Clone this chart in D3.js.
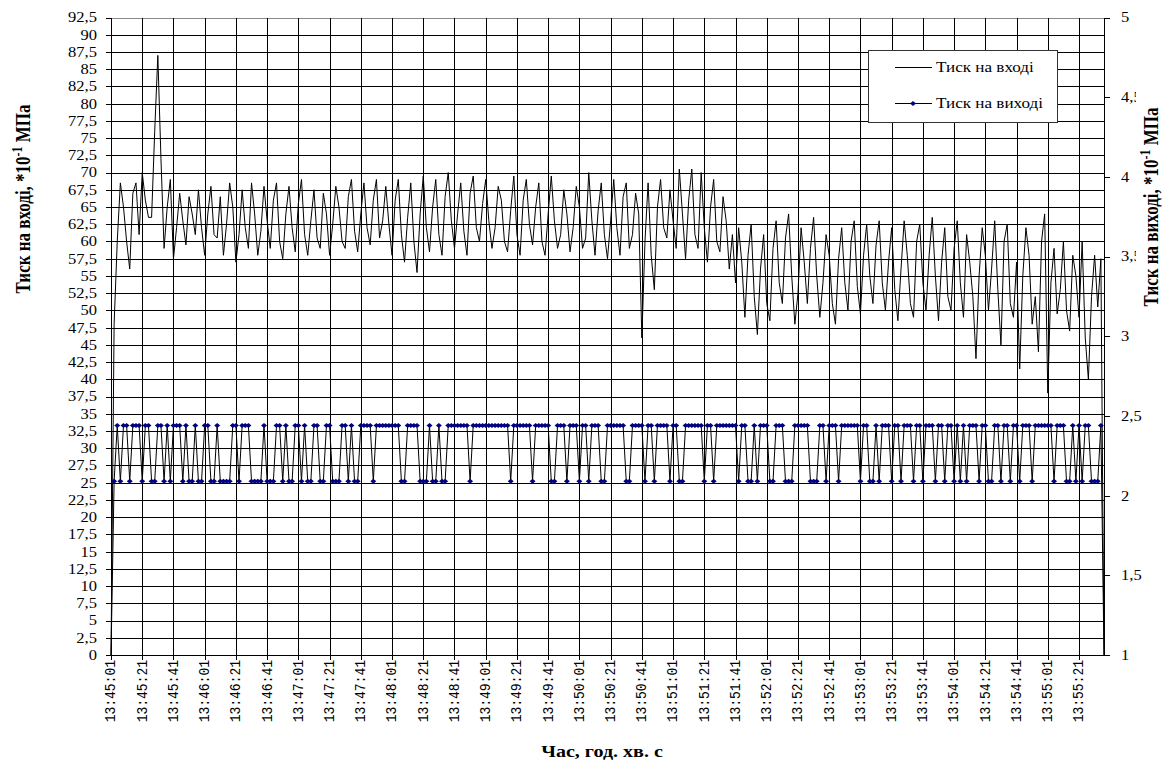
<!DOCTYPE html>
<html><head><meta charset="utf-8">
<script src="https://cdn.jsdelivr.net/npm/d3@7"></script>
<style>body{margin:0;background:#fff} svg{display:block}</style>
</head><body>
<svg id="c" width="1166" height="760"></svg>
<script>
// ---- data ----
const startTime = "13:45:01";
const stepSeconds = 2;
const xTickLabels = ["13:45:01","13:45:21","13:45:41","13:46:01","13:46:21","13:46:41","13:47:01","13:47:21","13:47:41","13:48:01","13:48:21","13:48:41","13:49:01","13:49:21","13:49:41","13:50:01","13:50:21","13:50:41","13:51:01","13:51:21","13:51:41","13:52:01","13:52:21","13:52:41","13:53:01","13:53:21","13:53:41","13:54:01","13:54:21","13:54:41","13:55:01","13:55:21"];
const leftTicks = [0,2.5,5,7.5,10,12.5,15,17.5,20,22.5,25,27.5,30,32.5,35,37.5,40,42.5,45,47.5,50,52.5,55,57.5,60,62.5,65,67.5,70,72.5,75,77.5,80,82.5,85,87.5,90,92.5];
const rightTicks = [1,1.5,2,2.5,3,3.5,4,4.5,5];

// Тиск на вході (left axis, *10^-1 MPa)
const inletPressure = [
0,48,60,68.5,65,60,56,67,68.5,61,
70,66,63.5,63.5,76,87,72,59,65,69,
57.5,62,67,63,59.5,66.5,64,61,67.5,62,
58,64,68,61,60.5,66.5,58,62.5,68.5,65,
57,61,67.5,62,59,68.5,64,58,61.5,68,
63,59,66,68.5,60,57.5,64,68,62,58.5,
65.5,69,61,58,63,67.5,60.5,59,67,64,
58,62.5,68,65,60,59,66.5,69,61.5,58.5,
64,68.5,62,59.5,66,69,60.5,63,68,62.5,
58,66,69,61,57,63.5,68.5,60,55.5,64,
69.5,62,58.5,65,69,61,58,66.5,70,63,
59,64,68.5,61.5,58,67,69.5,62,60,65.5,
69,63,59,62,68,66,60,58.5,64.5,69.5,
61,58,66,69,62.5,59.5,65,68.5,60,58,
64,69.5,63,59,61,67.5,64,58.5,62,68,
65,59,60.5,70,63,58,64.5,68.5,61,57.5,
63,69,62,58,66.5,68.5,59,61,67,64,
46,60,68.5,58,53,65,69,62,60.5,67.5,
63,59,70.5,64,57.5,66,70.5,61,59,70,
62,57,65,69,60,58.5,66.5,63,56,61,
54,62,57,49,58,62.5,52,46.5,56,61,
51,48.5,59,63,54,51,60.5,64,55,48,
52.5,62,57,51,59,63.5,55,49,54,61,
58,51,48,57.5,62,54,50,60,63,53.5,
49.5,58,62.5,55,51,59.5,63,54,50,57,
62,53,48.5,56,63,58,51,49,60,62.5,
54,50,58,63.5,55,48.5,57,62,52,50,
59,63,54,49,61,57,52,43,55,62,
58,50,56,63,53,45,60,62.5,51,49,
57,41.5,55,62,58,48,52,44,60,64,
38,54,59,49.5,53,60,50,47,58,55,
49,60,46,40,52,58,50.5,57.5,0
];

// Тиск на виході (right axis, *10^-1 MPa)
const outletPressure = [
1,2.09,2.44,2.09,2.44,2.44,2.09,2.44,2.44,2.44,
2.09,2.44,2.44,2.09,2.09,2.44,2.44,2.09,2.44,2.09,
2.44,2.44,2.44,2.09,2.44,2.09,2.09,2.44,2.09,2.09,
2.44,2.44,2.09,2.09,2.44,2.09,2.09,2.09,2.09,2.44,
2.44,2.09,2.44,2.44,2.44,2.09,2.09,2.09,2.09,2.44,
2.09,2.09,2.09,2.44,2.44,2.09,2.44,2.09,2.09,2.44,
2.44,2.09,2.44,2.09,2.09,2.44,2.44,2.09,2.09,2.44,
2.44,2.09,2.09,2.09,2.44,2.44,2.09,2.44,2.09,2.09,
2.44,2.44,2.44,2.44,2.09,2.44,2.44,2.44,2.44,2.44,
2.44,2.44,2.44,2.09,2.09,2.44,2.44,2.44,2.44,2.09,
2.09,2.09,2.44,2.09,2.09,2.44,2.09,2.09,2.44,2.44,
2.44,2.44,2.44,2.44,2.44,2.09,2.44,2.44,2.44,2.44,
2.44,2.44,2.44,2.44,2.44,2.44,2.44,2.44,2.09,2.44,
2.44,2.44,2.44,2.44,2.44,2.09,2.44,2.44,2.44,2.44,
2.44,2.09,2.09,2.44,2.44,2.44,2.09,2.44,2.44,2.44,
2.09,2.44,2.44,2.09,2.44,2.44,2.44,2.09,2.09,2.44,
2.44,2.44,2.44,2.44,2.44,2.09,2.09,2.44,2.44,2.44,
2.44,2.09,2.44,2.44,2.09,2.44,2.44,2.44,2.44,2.09,
2.44,2.44,2.09,2.09,2.44,2.44,2.44,2.44,2.44,2.44,
2.09,2.44,2.44,2.09,2.44,2.44,2.44,2.44,2.44,2.44,
2.44,2.09,2.44,2.44,2.09,2.09,2.44,2.09,2.44,2.44,
2.44,2.09,2.09,2.44,2.44,2.44,2.09,2.09,2.09,2.44,
2.44,2.44,2.44,2.44,2.09,2.09,2.09,2.44,2.44,2.09,
2.44,2.44,2.44,2.09,2.44,2.44,2.44,2.44,2.44,2.44,
2.09,2.44,2.44,2.09,2.09,2.44,2.09,2.44,2.44,2.44,
2.09,2.44,2.44,2.09,2.44,2.44,2.44,2.09,2.44,2.44,
2.09,2.44,2.44,2.44,2.09,2.44,2.44,2.09,2.44,2.44,
2.09,2.44,2.09,2.44,2.09,2.44,2.44,2.44,2.09,2.44,
2.44,2.09,2.09,2.44,2.44,2.09,2.44,2.44,2.09,2.44,
2.44,2.09,2.44,2.44,2.44,2.09,2.44,2.44,2.44,2.44,
2.44,2.44,2.09,2.44,2.44,2.44,2.09,2.09,2.44,2.09,
2.44,2.09,2.44,2.44,2.09,2.09,2.09,2.44,1
];

const seriesNames = ["Тиск на вході", "Тиск на виході"];

// ---- categories (time stamps) ----
const parseT = d3.timeParse("%H:%M:%S"), fmtT = d3.timeFormat("%H:%M:%S");
const t0 = parseT(startTime);
const categories = inletPressure.map((_, i) => fmtT(d3.timeSecond.offset(t0, i * stepSeconds)));

// ---- layout ----
const L = 111, R = 1104, T = 17.5, B = 655;
const svg = d3.select("#c");
const serif = "'Liberation Serif','Times New Roman',serif";
const SX = 1.18; // horizontal stretch of the original rendering

const x = d3.scalePoint().domain(categories).range([L, R]);
const yL = d3.scaleLinear().domain([0, 92.5]).range([B, T]);
const yR = d3.scaleLinear().domain([1, 5]).range([B, T]);
const px = v => Math.round(v) + 0.5;
const fmtComma = v => String(v).replace(".", ",");

// grid
const g = svg.append("g").attr("shape-rendering", "crispEdges");
g.selectAll("line.h").data(leftTicks).join("line")
  .attr("x1", L).attr("x2", R)
  .attr("y1", d => px(yL(d))).attr("y2", d => px(yL(d)))
  .attr("stroke", d => d === 92.5 ? "#8a8a8a" : "#000").attr("stroke-width", 1);
const tickCats = categories.filter(c => xTickLabels.includes(c));
g.selectAll("line.v").data(tickCats.filter(c => c !== categories[0])).join("line")
  .attr("x1", d => px(x(d))).attr("x2", d => px(x(d)))
  .attr("y1", T).attr("y2", B).attr("stroke", "#000");

// axes lines
g.append("line").attr("x1", px(L)).attr("x2", px(L)).attr("y1", T).attr("y2", B + 0.5).attr("stroke", "#000");
g.append("line").attr("x1", px(R)).attr("x2", px(R)).attr("y1", T).attr("y2", B + 0.5).attr("stroke", "#000");
g.append("line").attr("x1", L).attr("x2", R + 1).attr("y1", px(B)).attr("y2", px(B)).attr("stroke", "#000");

// left ticks + labels
g.selectAll("line.lt").data(leftTicks).join("line")
  .attr("x1", L - 5).attr("x2", L).attr("y1", d => px(yL(d))).attr("y2", d => px(yL(d))).attr("stroke", "#000");
svg.append("g").selectAll("text").data(leftTicks).join("text")
  .attr("transform", d => `translate(${L - 14},${yL(d)}) scale(${SX},1)`)
  .attr("text-anchor", "end").attr("dy", "0.35em")
  .attr("font-family", serif).attr("font-size", 14).attr("fill", "#000")
  .text(fmtComma);

// right ticks + labels
g.selectAll("line.rt").data(rightTicks).join("line")
  .attr("x1", R).attr("x2", R + 6).attr("y1", d => px(yR(d))).attr("y2", d => px(yR(d))).attr("stroke", "#000");
svg.append("g").selectAll("text").data(rightTicks).join("text")
  .attr("transform", d => `translate(${R + 17},${yR(d)}) scale(${SX},1)`)
  .attr("dy", "0.35em")
  .attr("font-family", serif).attr("font-size", 14).attr("fill", "#000")
  .text(fmtComma);

// bottom ticks + labels
g.selectAll("line.bt").data(tickCats).join("line")
  .attr("x1", d => px(x(d))).attr("x2", d => px(x(d))).attr("y1", B).attr("y2", B + 5).attr("stroke", "#000");
svg.append("g").selectAll("text").data(tickCats).join("text")
  .attr("transform", d => `translate(${x(d) - 1},${B + 5}) scale(${SX},1) rotate(-90)`)
  .attr("text-anchor", "end").attr("dy", "0.35em")
  .attr("font-family", "'Liberation Mono','Courier New',monospace").attr("font-size", 13).attr("fill", "#000")
  .text(d => xTickLabels[xTickLabels.indexOf(d)]);

// series
const lineIn = d3.line().x((d, i) => x(categories[i])).y(d => yL(d));
const lineOut = d3.line().x((d, i) => x(categories[i])).y(d => yR(d));
svg.append("path").datum(inletPressure).attr("d", lineIn)
  .attr("fill", "none").attr("stroke", "#000").attr("stroke-width", 1);
svg.append("path").datum(outletPressure).attr("d", lineOut)
  .attr("fill", "none").attr("stroke", "#000").attr("stroke-width", 1);
const diamond = "M0,-2.5L3,0L0,2.5L-3,0Z";
svg.append("g").selectAll("path").data(outletPressure.map((v, i) => [categories[i], v]).filter(d => d[1] > 2))
  .join("path").attr("d", diamond)
  .attr("transform", d => `translate(${x(d[0])},${yR(d[1])})`)
  .attr("fill", "#000080");

// right title (with white backing that clips label tails, as in the original)
svg.append("rect").attr("x", 1136).attr("y", 88).attr("width", 30).attr("height", 232).attr("fill", "#fff");
function axisTitle(cx, cy, text) {
  const t = svg.append("text")
    .attr("transform", `translate(${cx},${cy}) scale(${SX},1) rotate(-90)`)
    .attr("text-anchor", "middle").attr("dy", "0.35em")
    .attr("font-family", serif).attr("font-size", 17).attr("font-weight", "bold").attr("fill", "#000");
  t.append("tspan").text(text + ", *10");
  t.append("tspan").attr("dy", -7).attr("font-size", 12).text("-1");
  t.append("tspan").attr("dy", 7).text(" МПа");
}
axisTitle(23, 199, "Тиск на вході");
axisTitle(1151, 207, "Тиск на виході");

// x title
svg.append("text").attr("transform", `translate(602,757) scale(${SX},1)`)
  .attr("text-anchor", "middle").attr("font-family", serif).attr("font-size", 17)
  .attr("font-weight", "bold").text("Час, год. хв. с");

// legend
const lg = svg.append("g");
lg.append("rect").attr("x", 868.5).attr("y", 50.5).attr("width", 189).attr("height", 72)
  .attr("fill", "#fff").attr("stroke", "#333").attr("stroke-width", 1);
const rows = [{y: 67, marker: false}, {y: 103, marker: true}];
rows.forEach((r, i) => {
  lg.append("line").attr("x1", 895).attr("x2", 932).attr("y1", r.y + 0.5).attr("y2", r.y + 0.5)
    .attr("stroke", "#000").attr("shape-rendering", "crispEdges");
  if (r.marker) lg.append("path").attr("d", diamond).attr("transform", `translate(913,${r.y + 0.5})`).attr("fill", "#000080");
  lg.append("text").attr("transform", `translate(936,${r.y}) scale(${SX},1)`).attr("dy", "0.35em")
    .attr("font-family", serif).attr("font-size", 14.5).text(seriesNames[i]);
});
</script>
</body></html>
